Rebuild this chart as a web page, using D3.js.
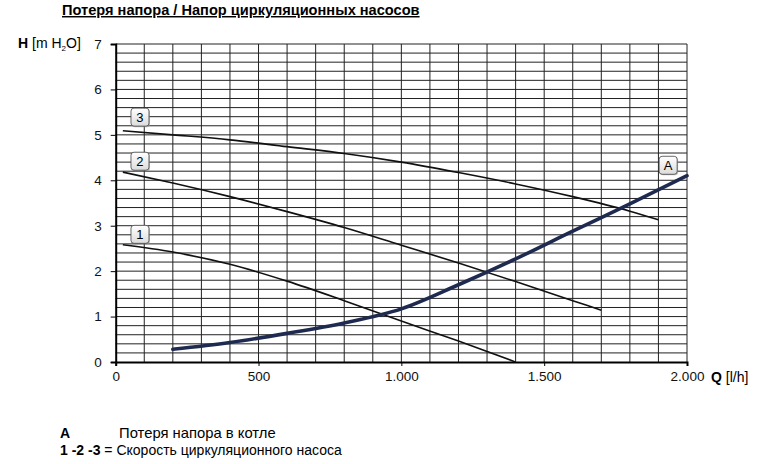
<!DOCTYPE html>
<html>
<head>
<meta charset="utf-8">
<script src="https://cdn.jsdelivr.net/npm/d3@7"></script>
<style>
  body { margin: 0; background: #fff; }
  svg { font-family: "Liberation Sans", Arial, sans-serif; }
</style>
</head>
<body>
<div id="chart"></div>
<script>
// pump curves 1-2-3 and boiler loss curve A (Q in l/h, H in m H2O)
var q1 = [25, 200, 400, 600, 800, 1000, 1200, 1400];
var h1 = [2.58, 2.42, 2.15, 1.78, 1.35, 0.90, 0.46, 0];
var q2 = [25, 200, 400, 600, 800, 1000, 1200, 1400, 1600, 1700];
var h2 = [4.18, 3.94, 3.64, 3.31, 2.96, 2.57, 2.18, 1.77, 1.35, 1.14];
var q3 = [25, 200, 400, 600, 800, 1000, 1200, 1400, 1600, 1800, 1900];
var h3 = [5.09, 5.0, 4.89, 4.74, 4.59, 4.40, 4.17, 3.92, 3.64, 3.32, 3.13];
var qA = [200, 400, 600, 800, 1000, 1200, 1400, 1600, 1800, 2000];
var hA = [0.28, 0.43, 0.63, 0.86, 1.17, 1.70, 2.27, 2.88, 3.48, 4.1];

var curveNames = ["1", "2", "3", "A"];
// where the little label boxes sit (data units)
var labelQ = [85, 85, 85, 1934];
var labelH = [2.81, 4.42, 5.39, 4.33];

var xTicks = [0, 500, 1000, 1500, 2000];
var xTickLabels = ["0", "500", "1.000", "1.500", "2.000"];
var yTicks = [0, 1, 2, 3, 4, 5, 6, 7];

var width = 758, height = 464;
var margin = { top: 44, right: 71, bottom: 102, left: 115.7 };

var x = d3.scaleLinear().domain([0, 2000]).range([margin.left, width - margin.right]);
var y = d3.scaleLinear().domain([0, 7]).range([height - margin.bottom, margin.top]);

var svg = d3.select("#chart").append("svg")
    .attr("width", width)
    .attr("height", height);

// title
svg.append("text")
    .attr("x", 62).attr("y", 15)
    .style("font-size", "14.6px")
    .style("font-weight", "bold")
    .style("text-decoration", "underline")
    .text("Потеря напора / Напор циркуляционных насосов");

// grid
var grid = svg.append("g").attr("stroke", "#222").attr("stroke-width", 1);
grid.selectAll(".v")
    .data(d3.range(100, 2001, 100))
    .enter().append("line")
    .attr("x1", d => x(d)).attr("x2", d => x(d))
    .attr("y1", y(0)).attr("y2", y(7));
grid.selectAll(".h")
    .data(d3.range(1, 36).map(i => i * 0.2))
    .enter().append("line")
    .attr("x1", x(0)).attr("x2", x(2000))
    .attr("y1", d => y(d)).attr("y2", d => y(d));

// axes
svg.append("g")
    .attr("transform", `translate(0, ${y(0)})`)
    .call(d3.axisBottom(x).tickValues(xTicks).tickFormat((d, i) => xTickLabels[i]).tickSize(4).tickPadding(5))
    .call(g => g.select(".domain").attr("stroke-width", 2))
    .call(g => g.selectAll("text").style("font-size", "13.5px").style("font-family", "Liberation Sans, Arial, sans-serif").attr("fill", "#111"));

svg.append("g")
    .attr("transform", `translate(${x(0)}, 0)`)
    .call(d3.axisLeft(y).tickValues(yTicks).tickFormat(d3.format("d")).tickSize(5).tickPadding(9))
    .call(g => g.select(".domain").attr("stroke-width", 2))
    .call(g => g.selectAll("text").style("font-size", "13.5px").style("font-family", "Liberation Sans, Arial, sans-serif").attr("fill", "#111"));

// axis titles
var yt = svg.append("text").attr("x", 18).attr("y", 48).style("font-size", "14px");
yt.append("tspan").style("font-weight", "bold").text("H");
yt.append("tspan").text(" [m H");
yt.append("tspan").attr("dy", 3).style("font-size", "8px").text("2");
yt.append("tspan").attr("dy", -3).text("O]");

var xt = svg.append("text").attr("x", 711).attr("y", 382).style("font-size", "14px");
xt.append("tspan").style("font-weight", "bold").text("Q");
xt.append("tspan").text(" [l/h]");

// curves
var line = d3.line()
    .x(d => x(d[0]))
    .y(d => y(d[1]))
    .curve(d3.curveMonotoneX);

var pumpCurves = [d3.zip(q1, h1), d3.zip(q2, h2), d3.zip(q3, h3)];
svg.selectAll(".pump")
    .data(pumpCurves)
    .enter().append("path")
    .attr("class", "pump")
    .attr("fill", "none")
    .attr("stroke", "#111")
    .attr("stroke-width", 1.6)
    .attr("d", line);

svg.append("path")
    .datum(d3.zip(qA, hA))
    .attr("fill", "none")
    .attr("stroke", "#1f2a50")
    .attr("stroke-width", 3.6)
    .attr("stroke-linecap", "round")
    .attr("d", line);

// label boxes
var defs = svg.append("defs");
var grad = defs.append("linearGradient").attr("id", "boxFill").attr("x1", 0).attr("y1", 0).attr("x2", 0).attr("y2", 1);
grad.append("stop").attr("offset", "0%").attr("stop-color", "#ffffff");
grad.append("stop").attr("offset", "100%").attr("stop-color", "#dcdcdc");

var labels = svg.selectAll(".lbl")
    .data(curveNames)
    .enter().append("g")
    .attr("class", "lbl")
    .attr("transform", (d, i) => `translate(${x(labelQ[i])}, ${y(labelH[i])})`);

labels.append("rect")
    .attr("x", -8).attr("y", -8).attr("width", 18).attr("height", 18)
    .attr("rx", 3).attr("fill", "#999").attr("opacity", 0.6);
labels.append("rect")
    .attr("x", -9).attr("y", -9).attr("width", 18).attr("height", 18)
    .attr("rx", 3)
    .attr("fill", "url(#boxFill)")
    .attr("stroke", "#444")
    .attr("stroke-width", 0.8);
labels.append("text")
    .attr("text-anchor", "middle")
    .attr("y", 4.5)
    .style("font-size", "13px")
    .text(d => d);

// legend below the chart
var legend = svg.append("g").style("font-size", "14px");
legend.append("text").attr("x", 60).attr("y", 438).style("font-weight", "bold").text("A");
legend.append("text").attr("x", 119).attr("y", 438).style("font-size", "14.8px").text("Потеря напора в котле");
var l2 = legend.append("text").attr("x", 60).attr("y", 455);
l2.append("tspan").style("font-weight", "bold").text("1 -2 -3");
l2.append("tspan").text(" = Скорость циркуляционного насоса");
</script>
</body>
</html>
